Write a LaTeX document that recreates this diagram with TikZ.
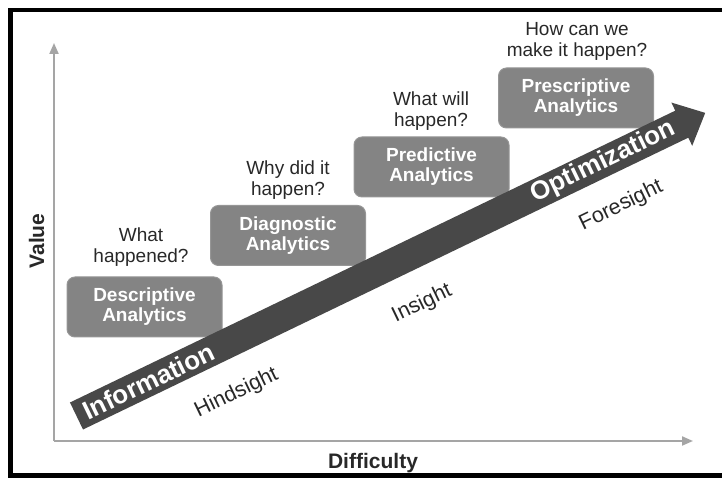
\documentclass[tikz,border=0pt]{standalone}
\usepackage{fontspec}
\setmainfont{Liberation Sans}
\usetikzlibrary{arrows.meta, positioning}
\definecolor{boxgray}{RGB}{132,132,132}
\definecolor{boxedge}{RGB}{150,150,150}
\definecolor{flowgray}{RGB}{72,72,72}
\definecolor{axisgray}{RGB}{165,165,165}
\definecolor{textgray}{RGB}{40,40,40}

\begin{document}
\begin{tikzpicture}[x=1pt, y=1pt,
    analytics/.style={fill=boxgray, draw=boxedge, line width=1pt, rounded corners=8pt, minimum width=155pt, minimum height=60pt, inner sep=0pt, text=white, align=center, font=\fontsize{19}{20}\selectfont\bfseries},
    question/.style={text=textgray, align=center, font=\fontsize{19}{21}\selectfont},
    axislabel/.style={text=textgray, font=\fontsize{21}{24}\selectfont\bfseries},
    sight/.style={text=textgray, transform shape, font=\fontsize{21.5}{24}\selectfont},
    flowtext/.style={text=white, transform shape, font=\fontsize{26}{30}\selectfont\bfseries},
    axisarrow/.style={-{Triangle[length=11pt,width=9pt]}, line width=2pt, draw=axisgray}
]
    \useasboundingbox (0,0) rectangle (722,478);
    \clip (0,0) rectangle (722,478);

    % outer frame (open to the right)
    \draw[line width=4.5pt] (740,468) -- (10.5,468) -- (10.5,2.5) -- (740,2.5);

    % axes
    \coordinate (origin) at (54,37);
    \coordinate (vtop) at (54,435);
    \coordinate (dend) at (693,37);
    \draw[axisarrow] (origin) -- (vtop);
    \draw[axisarrow] (origin) -- (dend);
    \node[axislabel, rotate=90, name=value] at(36.5,237) {Value};
    \node[axislabel, name=diff] at(373,15) {Difficulty};

    % analytics stages
    \node[analytics, name=desc] at(144.5,171) {Descriptive\\Analytics};
    \node[analytics, name=diag] at(288,242.5) {Diagnostic\\Analytics};
    \node[analytics, name=pred] at(431.5,311) {Predictive\\Analytics};
    \node[analytics, name=presc] at(576,380) {Prescriptive\\Analytics};

    \node[question, name=qdesc] at(141,231) {What\\happened?};
    \node[question, name=qdiag] at(288,298) {Why did it\\happen?};
    \node[question, name=qpred] at(431,367) {What will\\happen?};
    \node[question, name=qpresc] at(577,437) {How can we\\make it happen?};

    % big arrow
    \begin{scope}[shift={(76.5,62)}, rotate=25.74]
        \fill[flowgray] (0,-15) -- (672,-15) -- (672,-24) -- (698,0) -- (672,24) -- (672,15) -- (0,15) -- cycle;
        \node[flowtext, name=info] at(80,0) {Information};
        \node[flowtext, name=optim] at(585,0) {Optimization};
        \node[sight, name=hind] at(154,-49) {Hindsight};
        \node[sight, name=ins] at(360,-49) {Insight};
        \node[sight, name=fore] at(582,-47) {Foresight};
    \end{scope}
\end{tikzpicture}
\end{document}
